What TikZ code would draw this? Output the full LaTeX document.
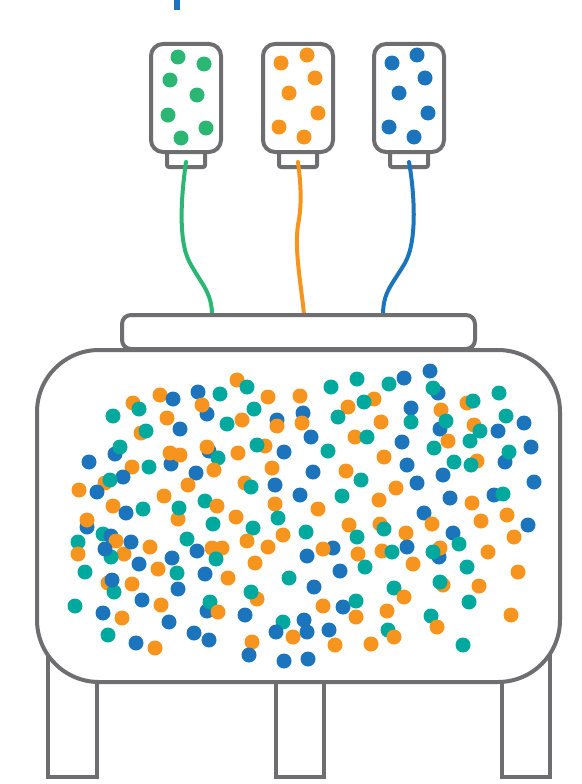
\documentclass[tikz,border=0pt]{standalone}
\usepackage{tikz}
\definecolor{linegray}{RGB}{110,110,113}
\definecolor{gr}{RGB}{44,182,115}
\definecolor{or}{RGB}{247,148,30}
\definecolor{bl}{RGB}{28,117,188}
\definecolor{te}{RGB}{0,169,157}

\begin{document}
\begin{tikzpicture}[x=1pt,y=-1pt,
  outline/.style={draw=linegray,line width=4pt,fill=white},
  tube/.style={line width=4pt,line cap=round}]
\path[use as bounding box] (0,0) rectangle (581,784);
\fill[bl] (174,0) rectangle (180,10);
% bottles and necks
\foreach \cx in {186,298,409}{
  \draw[outline,rounded corners=12] (\cx-35,44) rectangle (\cx+35,152);
  \draw[outline,rounded corners=2] (\cx-19,152) rectangle (\cx+19,167);
}
\foreach \x/\y in {178/57,204/64,170/80,197/95,168/115,206/128,181/138}
  \fill[gr] (\x,\y) circle (7.5);
\foreach \x/\y in {307/55,281/63,315/78,289/93,318/113,279/127,304/137}
  \fill[or] (\x,\y) circle (7.5);
\foreach \x/\y in {417/55,392/63,425/78,399/93,428/113,389/127,414/137}
  \fill[bl] (\x,\y) circle (7.5);
% tubes
\coordinate (gn) at (186,162);
\coordinate (on) at (298,162);
\coordinate (bn) at (409,162);
\coordinate (gb) at (212,315);
\coordinate (ob) at (304,315);
\coordinate (bb) at (383,315);
\draw[tube,gr] (gn) .. controls (182,190) and (177,240) .. (190,263) .. controls (200,282) and (212,292) .. (gb);
\draw[tube,or] (on) .. controls (301,185) and (302,205) .. (298,225) .. controls (294,250) and (302,290) .. (ob);
\draw[tube,bl] (bn) .. controls (414,190) and (418,240) .. (405,263) .. controls (392,285) and (383,292) .. (bb);
% legs, tank and lid
\draw[outline] (48,640) rectangle (97,777);
\draw[outline] (276,640) rectangle (324,777);
\draw[outline] (502,640) rectangle (550,777);
\draw[outline,rounded corners=62] (37,350) rectangle (560,682);
\draw[outline,rounded corners=9] (122,315) rectangle (475,349);
% mixed dots
\foreach \x/\y/\c in {
  198/392/bl,220/394/te,160/395/or,173/399/bl,133/403/or,139/409/te,
  207/414/bl,202/405/or,113/416/te,167/418/or,227/424/te,180/429/bl,
  141/433/or,146/431/te,115/454/bl,120/447/te,209/451/bl,207/447/or,
  218/458/te,171/464/bl,170/453/or,180/455/or,89/462/bl,132/467/or,
  149/467/te,214/470/or,196/473/bl,123/477/bl,105/483/or,110/480/te,
  188/485/or,79/490/or,97/492/bl,164/496/or,205/501/te,217/506/or,
  113/506/or,143/509/te,126/513/bl,87/527/bl,87/520/or,178/519/or,
  179/508/te,
  237/380/or,247/387/te,357/379/te,331/387/te,268/397/or,300/396/or,
  348/407/or,338/417/te,374/399/or,364/402/te,254/409/te,303/413/bl,
  302/423/or,277/420/bl,277/426/or,242/420/or,381/422/or,311/437/bl,
  355/437/or,367/437/te,265/446/or,257/445/te,284/452/bl,328/451/te,
  238/453/or,384/457/or,272/468/or,313/472/bl,346/471/or,361/480/te,
  245/483/or,251/487/te,275/485/bl,300/495/bl,342/496/te,379/500/or,
  275/504/or,318/509/or,236/517/or,278/518/te,
  430/371/bl,404/378/bl,389/384/te,438/393/bl,433/388/te,499/393/te,
  467/403/or,473/401/te,411/408/bl,441/410/or,506/416/te,411/422/te,
  440/429/bl,446/421/te,448/441/or,524/423/bl,474/425/or,480/431/te,
  470/441/te,498/431/bl,402/442/bl,531/447/bl,434/448/te,505/462/bl,
  509/452/te,454/462/te,477/461/or,471/465/te,407/465/bl,443/475/bl,
  417/483/bl,534/482/bl,396/488/or,494/495/bl,503/494/te,450/498/bl,
  472/503/or,424/513/bl,507/515/or,481/521/or,
  213/524/te,78/542/te,103/534/te,111/536/bl,116/541/or,124/554/or,
  111/557/te,105/549/bl,131/542/bl,150/547/or,187/539/te,197/551/bl,
  212/548/or,222/548/or,216/559/te,78/554/or,172/558/bl,139/564/bl,
  158/569/or,85/572/te,177/573/te,205/574/bl,228/578/or,108/583/or,
  114/592/te,112/580/bl,132/584/or,178/589/bl,142/600/bl,207/611/bl,
  210/602/te,218/612/or,75/606/te,161/605/or,103/613/bl,122/618/or,
  169/622/bl,108/635/te,194/633/bl,209/640/bl,136/643/bl,155/648/or,
  349/525/or,253/528/te,380/524/or,384/529/te,283/535/or,306/532/te,
  357/537/te,247/541/or,268/547/or,333/548/bl,323/549/or,307/556/bl,
  358/554/or,255/563/or,365/567/te,340/571/bl,289/578/te,314/587/bl,
  257/599/or,251/592/te,323/606/or,343/607/bl,356/601/te,356/617/or,
  245/615/bl,283/622/te,304/620/bl,276/632/bl,307/632/bl,293/637/or,
  329/630/bl,252/642/or,335/645/or,371/644/or,249/655/bl,284/661/bl,
  308/659/bl,
  432/524/or,528/525/bl,406/533/or,453/533/bl,459/544/te,514/537/or,
  407/547/bl,382/551/or,392/552/te,439/557/bl,440/548/or,433/552/te,
  488/552/or,413/564/or,467/567/te,518/572/or,443/585/or,440/582/te,
  479/586/or,394/588/te,404/597/or,469/602/te,387/611/or,511/615/or,
  431/616/te,437/627/or,388/630/te,394/637/or,463/645/te}
  \fill[\c] (\x,\y) circle (7.5);
\end{tikzpicture}
\end{document}
